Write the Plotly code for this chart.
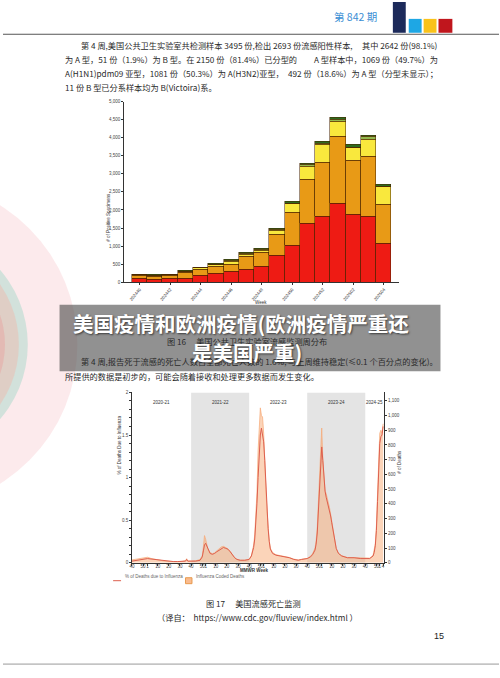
import plotly.graph_objects as go

W, H = 500, 678
def px(x): return x / W
def py(y): return 1 - y / H

# ---------------- Figure 16 data: positive specimens by week ----------------
weeks16 = ["202440", "202441", "202442", "202443", "202444", "202445", "202446", "202447",
           "202448", "202449", "202450", "202451", "202452", "202501", "202502", "202503", "202504"]
h1n1 = [95, 85, 90, 115, 175, 230, 290, 355, 445, 745, 1015, 1620, 1810, 2165, 1865, 1810, 1069]
h3n2 = [85, 85, 95, 150, 180, 210, 210, 345, 365, 570, 905, 1215, 1510, 1875, 1510, 1665, 1081]
a_unsub = [20, 20, 25, 30, 40, 45, 75, 60, 60, 120, 245, 375, 495, 410, 340, 475, 492]
b_vic = [5, 5, 5, 5, 10, 10, 15, 20, 25, 30, 25, 40, 20, 45, 25, 80, 11]
b_unk = [15, 10, 10, 15, 6, 15, 25, 45, 25, 30, 35, 40, 60, 70, 65, 40, 40]
tick16 = ["202440", "202442", "202444", "202446", "202448", "202450", "202452", "202502", "202504"]

# ---------------- Figure 17 data: influenza mortality ----------------
mort_weeks = ["2020-40", "2020-44", "2020-48", "2020-51", "2021-01", "2021-04", "2021-07", "2021-10",
              "2021-13", "2021-16", "2021-20", "2021-24", "2021-28", "2021-32", "2021-35", "2021-36",
              "2021-37", "2021-40", "2021-44", "2021-48", "2021-50", "2021-51", "2021-52", "2022-01",
              "2022-02", "2022-03", "2022-05", "2022-07", "2022-09", "2022-11", "2022-13", "2022-15",
              "2022-17", "2022-19", "2022-21", "2022-23", "2022-25", "2022-27", "2022-29", "2022-32",
              "2022-36", "2022-40", "2022-42", "2022-44", "2022-45", "2022-46", "2022-47", "2022-48",
              "2022-49", "2022-50", "2022-51", "2022-52", "2023-01", "2023-02", "2023-03", "2023-04",
              "2023-05", "2023-06", "2023-07", "2023-09", "2023-12", "2023-16", "2023-20", "2023-24",
              "2023-28", "2023-32", "2023-35", "2023-38", "2023-40", "2023-43", "2023-45", "2023-47",
              "2023-48", "2023-49", "2023-50", "2023-51", "2023-52", "2024-01", "2024-02", "2024-03",
              "2024-04", "2024-05", "2024-06", "2024-07", "2024-08", "2024-09", "2024-10", "2024-11",
              "2024-12", "2024-13", "2024-14", "2024-16", "2024-19", "2024-24", "2024-30", "2024-36",
              "2024-40", "2024-44", "2024-47", "2024-48", "2024-49", "2024-50", "2024-51", "2024-52",
              "2025-01", "2025-02", "2025-03", "2025-04"]
pct_flu = [0.02, 0.03, 0.04, 0.05, 0.05, 0.045, 0.04, 0.03,
           0.025, 0.02, 0.02, 0.015, 0.015, 0.02, 0.02, 0.04,
           0.02, 0.02, 0.02, 0.03, 0.07, 0.14, 0.21, 0.23,
           0.20, 0.15, 0.11, 0.10, 0.11, 0.13, 0.15, 0.17,
           0.18, 0.17, 0.16, 0.13, 0.09, 0.06, 0.04, 0.03,
           0.03, 0.04, 0.08, 0.18, 0.28, 0.45, 0.70, 1.00,
           1.30, 1.50, 1.58, 1.50, 1.42, 1.20, 0.90, 0.60,
           0.40, 0.25, 0.16, 0.11, 0.09, 0.08, 0.07, 0.06,
           0.04, 0.03, 0.04, 0.05, 0.05, 0.07, 0.10, 0.15,
           0.22, 0.35, 0.60, 0.95, 1.25, 1.36, 1.20, 0.98,
           0.84, 0.77, 0.72, 0.68, 0.62, 0.55, 0.47, 0.40,
           0.33, 0.25, 0.17, 0.11, 0.08, 0.06, 0.06, 0.05,
           0.05, 0.05, 0.08, 0.12, 0.20, 0.38, 0.72, 1.10,
           1.40, 1.48, 1.50, 1.60]
flu_deaths = [20, 25, 30, 35, 38, 30, 25, 20,
              15, 12, 10, 8, 8, 10, 15, 28,
              12, 12, 14, 22, 50, 110, 185, 160,
              130, 95, 70, 62, 68, 80, 95, 108,
              112, 105, 95, 78, 55, 35, 25, 18,
              18, 25, 50, 120, 190, 300, 480, 760,
              960, 1052, 1000, 990, 880, 640, 500, 350,
              230, 150, 100, 70, 55, 50, 42, 36,
              25, 20, 24, 30, 30, 45, 65, 100,
              150, 240, 400, 620, 760, 915, 700, 580,
              490, 470, 440, 415, 375, 330, 280, 230,
              180, 130, 95, 65, 48, 36, 34, 30,
              30, 32, 50, 80, 130, 250, 470, 720,
              880, 900, 880, 944]
seasons = ["2020-21", "2021-22", "2022-23", "2023-24", "2024-25"]
season_start = ["2020-40", "2021-40", "2022-40", "2023-40", "2024-40"]
axis_end = "2025-05"


def widx(lbl):
    y, w = map(int, lbl.split("-"))
    if y == 2020:
        return w - 40
    return 14 + 52 * (y - 2021) + w - 1


mort_x = [widx(w) for w in mort_weeks]

tickv17, tickt17 = [], []
for s in season_start:
    y0 = int(s[:4])
    for lbl, t in [(f"{y0}-40", "40"), (f"{y0}-50", "50"), (f"{y0+1}-01", "1"),
                   (f"{y0+1}-10", "10"), (f"{y0+1}-20", "20"), (f"{y0+1}-30", "30")]:
        if widx(lbl) <= widx("2025-04"):
            tickv17.append(widx(lbl)); tickt17.append(t)
tickv17.append(widx("2025-04")); tickt17.append("4")

fig = go.Figure()

# ---- Figure 16 stacked bars ----
bar_outline = dict(color="rgba(70,35,0,0.85)", width=0.6)
for name, vals, col in [("A(H1N1)pdm09", h1n1, "#EE1B14"),
                        ("A(H3N2)", h3n2, "#E89A16"),
                        ("A (subtyping not performed)", a_unsub, "#F9E83D"),
                        ("B (Victoria)", b_vic, "#93B84E"),
                        ("B (lineage not performed)", b_unk, "#2E6B1F")]:
    fig.add_trace(go.Bar(x=weeks16, y=vals, name=name, marker=dict(color=col, line=bar_outline),
                         xaxis="x", yaxis="y", showlegend=False))

# ---- Figure 17 area + line ----
fig.add_trace(go.Scatter(x=mort_x, y=flu_deaths, mode="lines", fill="tozeroy",
                         line=dict(color="rgba(246,170,120,0.9)", width=0.8),
                         fillcolor="rgba(248,170,115,0.5)", xaxis="x2", yaxis="y2", showlegend=False,
                         name="Influenza Coded Deaths"))
fig.add_trace(go.Scatter(x=mort_x, y=pct_flu, mode="lines",
                         line=dict(color="#DD5F4E", width=1), xaxis="x2", yaxis="y3", showlegend=False,
                         name="% of Deaths due to Influenza"))

tickfont = dict(family="Liberation Sans", size=4.5, color="#444")
shapes = []
annotations = []

# header
shapes += [
    dict(type="rect", xref="paper", yref="paper", x0=px(393), x1=px(406), y0=py(31), y1=py(0),
         fillcolor="#1C2A5A", line_width=0),
    dict(type="rect", xref="paper", yref="paper", x0=px(409), x1=px(422), y0=py(31), y1=py(17),
         fillcolor="#1EA7E4", line_width=0),
    dict(type="rect", xref="paper", yref="paper", x0=px(424), x1=px(437), y0=py(31), y1=py(17),
         fillcolor="#F9C21A", line_width=0),
    dict(type="rect", xref="paper", yref="paper", x0=px(439), x1=px(453), y0=py(31), y1=py(17),
         fillcolor="#C0161D", line_width=0),
    dict(type="line", xref="paper", yref="paper", x0=0, x1=1, y0=py(32.5), y1=py(32.5),
         line=dict(color="#555", width=1)),
    dict(type="line", xref="paper", yref="paper", x0=0, x1=1, y0=py(667), y1=py(667),
         line=dict(color="#999", width=1)),
]
# virus decoration
for (cx, cy, r, fc) in [(-90, 345, 165, "rgba(238,140,150,0.18)"),
                        (-90, 345, 115, "rgba(160,215,200,0.45)"),
                        (-90, 345, 106, "rgba(240,185,170,0.45)"),
                        (-90, 345, 92, "rgba(235,150,150,0.35)")]:
    shapes.append(dict(type="circle", xref="paper", yref="paper", x0=px(cx - r), x1=px(cx + r),
                       y0=py(cy + r), y1=py(cy - r), fillcolor=fc, line_width=0, layer="below"))

# season shading fig 17
for i, s in enumerate(season_start):
    if i % 2 == 1:
        x1 = widx(season_start[i + 1]) if i + 1 < len(season_start) else widx(axis_end)
        shapes.append(dict(type="rect", xref="x2", yref="y3", x0=widx(s), x1=x1, y0=0, y1=2,
                           fillcolor="#E4E4E4", line_width=0, layer="below"))
for i, s in enumerate(seasons):
    x0 = widx(season_start[i])
    x1 = widx(season_start[i + 1]) if i + 1 < len(season_start) else widx(axis_end)
    annotations.append(dict(x=(x0 + x1) / 2, y=1.88, xref="x2", yref="y3", text=s, showarrow=False,
                            font=dict(family="Liberation Sans", size=4.5, color="#333")))

# legend of fig 17
shapes += [
    dict(type="line", xref="paper", yref="paper", x0=px(111), x1=px(119), y0=py(583), y1=py(583),
         line=dict(color="#DD5F4E", width=1)),
    dict(type="rect", xref="paper", yref="paper", x0=px(184), x1=px(190.5), y0=py(586), y1=py(580),
         fillcolor="rgba(248,170,115,0.8)", line=dict(color="#E89A4E", width=1)),
]
annotations += [
    dict(x=px(121), y=py(583), xref="paper", yref="paper", text="% of Deaths due to Influenza",
         showarrow=False, xanchor="left", font=dict(family="Liberation Sans", size=4.5, color="#666")),
    dict(x=px(192.5), y=py(583), xref="paper", yref="paper", text="Influenza Coded Deaths",
         showarrow=False, xanchor="left", font=dict(family="Liberation Sans", size=4.5, color="#666")),
]

# axis titles
annotations += [
    dict(x=px(101), y=py(190), xref="paper", yref="paper", text="# of Positive Specimens", textangle=-90,
         showarrow=False, font=dict(family="Liberation Sans", size=4.5, color="#333")),
    dict(x=px(260), y=py(303), xref="paper", yref="paper", text="Week",
         showarrow=False, font=dict(family="Liberation Sans", size=4.5, color="#333")),
    dict(x=px(113), y=py(478), xref="paper", yref="paper", text="% of Deaths Due to Influenza",
         textangle=-90, showarrow=False, font=dict(family="Liberation Sans", size=4.5, color="#333")),
    dict(x=px(404), y=py(477), xref="paper", yref="paper", text="# of Deaths",
         textangle=-90, showarrow=False, font=dict(family="Liberation Sans", size=4.5, color="#333")),
    dict(x=px(253), y=py(577), xref="paper", yref="paper", text="<b>MMWR Week</b>",
         showarrow=False, font=dict(family="Liberation Sans", size=4.5, color="#333")),
]

cjk = "Noto Sans CJK SC"
body = dict(family=cjk, size=8.2, color="#2a2a2a")


def txt(x, y, s, size=None, color=None, anchor="left", family=cjk):
    f = dict(body)
    if size: f["size"] = size
    if color: f["color"] = color
    f["family"] = family
    annotations.append(dict(x=px(x), y=py(y), xref="paper", yref="paper", text=s, showarrow=False,
                            xanchor=anchor, yanchor="middle", font=f))


def jline(y, x0, x1, left, right):
    # justified line: left part anchored at x0, right part anchored at x1
    txt(x0, y, left)
    txt(x1, y, right, anchor="right")


txt(332, 15, "第 842 期", size=10.5, color="#3A8ED4")
jline(43.5, 77, 441, "第 4 周,美国公共卫生实验室共检测样本 3495 份,检出 2693 份流感阳性样本,", "其中 2642 份(98.1%)")
jline(57.7, 60, 441, "为 A 型，51 份（1.9%）为 B 型。在 2150 份（81.4%）已分型的", "A 型样本中，1069 份（49.7%）为")
jline(71.7, 60, 441, "A(H1N1)pdm09 亚型，1081 份（50.3%）为 A(H3N2)亚型，", "492 份（18.6%）为 A 型（分型未显示）；")
txt(60, 85.7, "11 份 B 型已分系样本均为 B(Victoira)系。")
txt(163, 342, "图 16　 美国公共卫生实验室流感监测周分布")
jline(362, 77, 441, "第 4 周,报告死于流感的死亡人数占全部死亡人数的 1.6%,", "与上周维持稳定(≤0.1 个百分点的变化)。")
txt(60, 377, "所提供的数据是初步的，可能会随着接收和处理更多数据而发生变化。")
txt(203, 605, "图 17　 美国流感死亡监测")
txt(153, 619.5, "（译自：  https://www.cdc.gov/fluview/index.html ）")
txt(432, 639, "15", size=9, color="#222", family="Liberation Sans")

# overlay banner
shapes.append(dict(type="rect", xref="paper", yref="paper", x0=px(57), x1=px(441), y0=py(372), y1=py(305),
                   fillcolor="rgba(72,72,72,0.6)", line_width=0, layer="above"))
for (x, y, s) in [(240, 323, "<b>美国疫情和欧洲疫情(欧洲疫情严重还</b>"), (246, 353, "<b>是美国严重)</b>")]:
    annotations.append(dict(x=px(x), y=py(y), xref="paper", yref="paper", text=s, showarrow=False,
                            xanchor="center", yanchor="middle",
                            font=dict(family=cjk, size=20.5, color="white",
                                      shadow="1px 1px 2px rgba(0,0,0,0.6)")))

axcommon = dict(showgrid=False, zeroline=False, showline=True, linecolor="#333", linewidth=0.8,
                ticks="outside", ticklen=2, tickwidth=0.6, tickcolor="#333", tickfont=tickfont)

fig.update_layout(
    width=W, height=H, autosize=False, margin=dict(l=0, r=0, t=0, b=0),
    paper_bgcolor="white", plot_bgcolor="rgba(0,0,0,0)", barmode="stack", bargap=0,
    xaxis=dict(domain=[px(122), px(399)], anchor="y", type="category", range=[-1.02, 16.98],
               tickmode="array", tickvals=tick16, ticktext=tick16, tickangle=-50, **axcommon),
    yaxis=dict(domain=[py(282.3), py(100.3)], anchor="x", range=[0, 5000], dtick=500,
               tickformat=",d", **axcommon),
    xaxis2=dict(domain=[px(130), px(384.3)], anchor="y2", range=[0, widx(axis_end)],
                tickmode="array", tickvals=tickv17, ticktext=tickt17, tickangle=0,
                ticklabelstandoff=-3, **axcommon),
    yaxis2=dict(domain=[py(565), py(393.3)], anchor="x2", side="right", range=[0, 1157],
                tickmode="array", tickvals=list(range(0, 1101, 100)), tickformat=",d", **axcommon),
    yaxis3=dict(overlaying="y2", anchor="x2", side="left", range=[0, 2], tickmode="array",
                tickvals=[i / 10 for i in range(21)],
                ticktext=[("0" if i == 0 else (str(i // 10) if i % 10 == 0 else str(i / 10))) if i % 5 == 0 else ""
                          for i in range(21)], **axcommon),
    shapes=shapes, annotations=annotations,
)

fig.write_html("out.html", config={"displayModeBar": False},
               post_script="document.body.style.margin='0';document.body.style.overflow='hidden';")
